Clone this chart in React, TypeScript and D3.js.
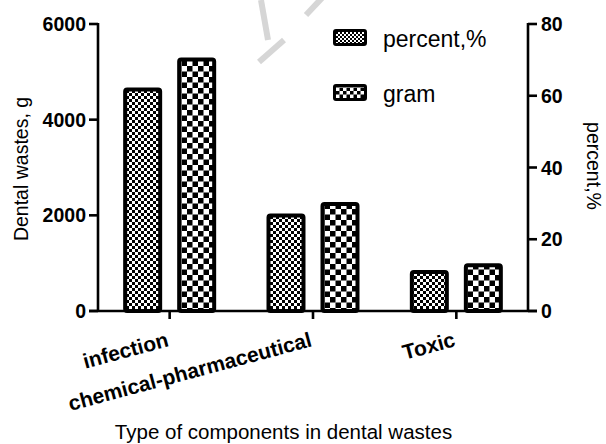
import React from "react";
import * as d3 from "d3";

const categories = ["infection", "chemical-pharmaceutical", "Toxic"];
const percentValues = [62.3, 27.2, 11.4];
const gramValues = [5300, 2280, 1000];
const leftTicks = [0, 2000, 4000, 6000];
const rightTicks = [0, 20, 40, 60, 80];
const seriesNames = ["percent,%", "gram"];

const W = 606;
const H = 444;
const FONT = "'Liberation Sans', Arial, Helvetica, sans-serif";

export default function App() {
  const xLeft = 98;
  const xRight = 528;
  const yBottom = 311;
  const yTop = 24;

  const x0 = d3.scaleBand<string>().domain(categories).range([xLeft, xRight]).padding(0);
  const x1 = d3
    .scaleBand<string>()
    .domain(["percent", "gram"])
    .range([0, x0.bandwidth()])
    .paddingInner(0.278)
    .paddingOuter(0.466);
  const yL = d3.scaleLinear().domain([0, 6000]).range([yBottom, yTop]);
  const yR = d3.scaleLinear().domain([0, 80]).range([yBottom, yTop]);

  const sw = 4;
  const bars: { key: string; x: number; y: number; w: number; h: number; fill: string }[] = [];
  categories.forEach((c, i) => {
    const bx0 = (x0(c) as number) + (x1("percent") as number);
    const top0 = yR(percentValues[i]);
    bars.push({ key: c + "p", x: bx0, y: top0, w: x1.bandwidth(), h: yBottom - top0, fill: "url(#patFine)" });
    const bx1 = (x0(c) as number) + (x1("gram") as number);
    const top1 = yL(gramValues[i]);
    bars.push({ key: c + "g", x: bx1, y: top1, w: x1.bandwidth(), h: yBottom - top1, fill: "url(#patCoarse)" });
  });

  const axisW = 2.6;

  return (
    <div style={{ position: "absolute", left: 0, top: 0 }}>
      <svg width={W} height={H} style={{ display: "block", background: "#fff" }}>
        <defs>
          <pattern id="patFine" patternUnits="userSpaceOnUse" width={6} height={6}>
            <rect width={6} height={6} fill="#fff" />
            <rect width={3} height={3} fill="#000" />
            <rect x={3} y={3} width={3} height={3} fill="#000" />
          </pattern>
          <pattern id="patCoarse" patternUnits="userSpaceOnUse" width={11} height={11}>
            <rect width={11} height={11} fill="#fff" />
            <rect width={5.5} height={5.5} fill="#000" />
            <rect x={5.5} y={5.5} width={5.5} height={5.5} fill="#000" />
          </pattern>
          <pattern id="legFine" patternUnits="userSpaceOnUse" width={4} height={4}>
            <rect width={4} height={4} fill="#fff" />
            <rect width={2} height={2} fill="#000" />
            <rect x={2} y={2} width={2} height={2} fill="#000" />
          </pattern>
          <pattern id="legCoarse" patternUnits="userSpaceOnUse" width={7} height={7}>
            <rect width={7} height={7} fill="#fff" />
            <rect width={3.5} height={3.5} fill="#000" />
            <rect x={3.5} y={3.5} width={3.5} height={3.5} fill="#000" />
          </pattern>
        </defs>

        {/* faint watermark */}
        <g stroke="#d6d6d6" strokeWidth={6} fill="none" strokeLinecap="butt">
          <path d="M259,62 L284,40" />
          <path d="M268,40 L261,0" />
          <path d="M306,15 L322,-2" />
        </g>

        {/* bars */}
        {bars.map((b) => (
          <rect
            key={b.key}
            x={b.x + sw / 2}
            y={b.y + sw / 2}
            width={b.w - sw}
            height={Math.max(0, b.h - sw / 2)}
            fill={b.fill}
            stroke="#000"
            strokeWidth={sw}
            rx={2}
          />
        ))}

        {/* left axis */}
        <line x1={xLeft} x2={xLeft} y1={yTop - 1} y2={yBottom} stroke="#000" strokeWidth={axisW} />
        {leftTicks.map((t) => (
          <g key={"l" + t}>
            <line x1={xLeft - 9} x2={xLeft} y1={yL(t)} y2={yL(t)} stroke="#000" strokeWidth={axisW} />
            <text
              x={xLeft - 12}
              y={yL(t) + 7}
              textAnchor="end"
              fontFamily={FONT}
              fontWeight="bold"
              fontSize={19.5}
            >
              {t}
            </text>
          </g>
        ))}

        {/* right axis */}
        <line x1={xRight} x2={xRight} y1={yTop - 1} y2={yBottom} stroke="#000" strokeWidth={axisW} />
        {rightTicks.map((t) => (
          <g key={"r" + t}>
            <line x1={xRight} x2={xRight + 9} y1={yR(t)} y2={yR(t)} stroke="#000" strokeWidth={axisW} />
            <text x={xRight + 13} y={yR(t) + 7} textAnchor="start" fontFamily={FONT} fontWeight="bold" fontSize={19.5}>
              {t}
            </text>
          </g>
        ))}

        {/* x axis */}
        <line x1={xLeft - 9} x2={xRight + 9} y1={yBottom} y2={yBottom} stroke="#000" strokeWidth={axisW} />
        {categories.map((c) => {
          const cx = (x0(c) as number) + x0.bandwidth() / 2;
          return (
            <g key={"c" + c}>
              <line x1={cx} x2={cx} y1={yBottom} y2={yBottom + 8} stroke="#000" strokeWidth={axisW} />
              <text
                transform={`translate(${cx},${346}) rotate(-15)`}
                textAnchor="end"
                fontFamily={FONT}
                fontWeight="bold"
                fontSize={21}
              >
                {c}
              </text>
            </g>
          );
        })}

        {/* axis titles */}
        <text
          transform={`translate(28,169) rotate(-90)`}
          textAnchor="middle"
          fontFamily={FONT}
          fontSize={19.5}
        >
          Dental wastes, g
        </text>
        <text
          transform={`translate(587,166) rotate(90)`}
          textAnchor="middle"
          fontFamily={FONT}
          fontSize={19.5}
        >
          percent,%
        </text>
        <text x={283.5} y={439} textAnchor="middle" fontFamily={FONT} fontSize={20.5}>
          Type of components in dental wastes
        </text>

        {/* legend */}
        {seriesNames.map((s, i) => {
          const ly = i === 0 ? 29 : 84;
          return (
            <g key={"lg" + s}>
              <rect
                x={334.5}
                y={ly + 1.5}
                width={31}
                height={14}
                fill={i === 0 ? "url(#legFine)" : "url(#legCoarse)"}
                stroke="#000"
                strokeWidth={3}
                rx={1.5}
              />
              <text x={383} y={ly + 18} fontFamily={FONT} fontSize={23}>
                {s}
              </text>
            </g>
          );
        })}
      </svg>
    </div>
  );
}
